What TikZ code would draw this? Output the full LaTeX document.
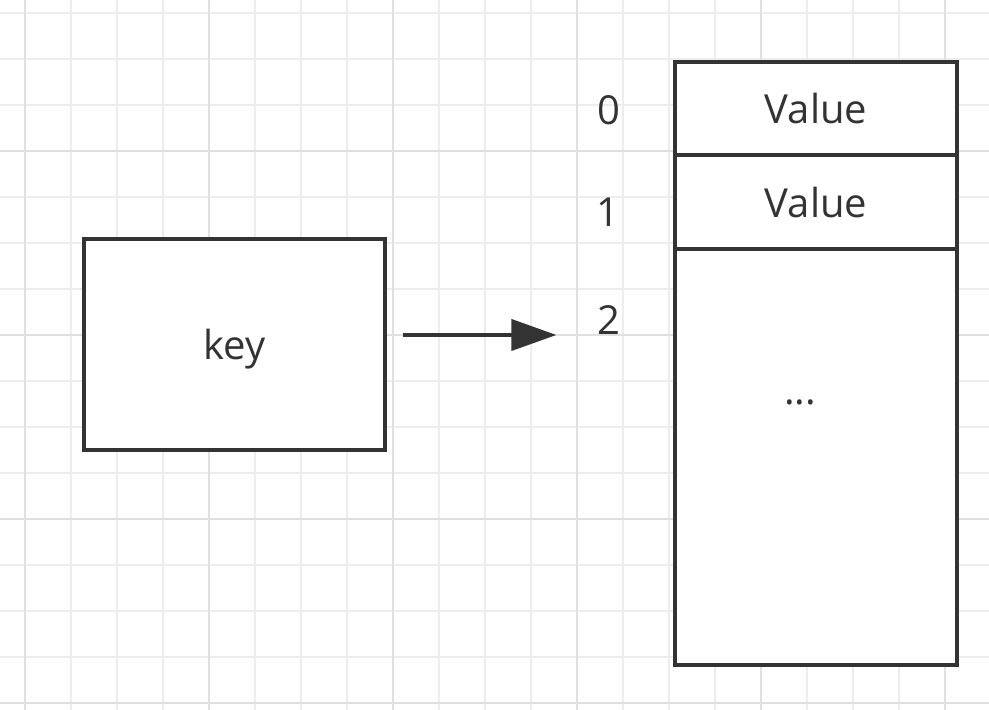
\documentclass[tikz,border=0pt]{standalone}
\usepackage{fontspec}
\setmainfont{Open Sans}
\usetikzlibrary{arrows.meta,positioning}
\definecolor{MapLine}{HTML}{333333}
\definecolor{MapGrid}{HTML}{EDEDED}
\definecolor{MapGridMajor}{HTML}{E0E0E0}

\begin{document}
\begin{tikzpicture}[
    x=1pt, y=-1pt,
    box/.style={draw=MapLine, fill=white, line width=4pt, outer sep=0pt,
      minimum width=282pt, inner sep=0pt, text depth=0pt,
      font=\fontsize{40}{48}\selectfont, text=MapLine},
    idxtext/.style={inner sep=0pt, font=\fontsize{40}{48}\selectfont, text=MapLine},
    arrow/.style={-{Triangle[length=45pt,width=31pt]}, line width=4pt, draw=MapLine},
    gridline/.style={draw=MapGrid, line width=1.2pt},
    gridmajor/.style={draw=MapGridMajor, line width=1.2pt}
  ]
    \useasboundingbox (0,0) rectangle (989,710);
    \fill[white] (0,0) rectangle (989,710);

    % background grid
    \foreach \k in {0,...,20}
      \draw[gridline] ({25+46*\k},0) -- ({25+46*\k},710);
    \foreach \k in {0,...,15}
      \draw[gridline] (0,{13+46*\k}) -- (989,{13+46*\k});
    \foreach \gx in {25,209,393,577,761,945}
      \draw[gridmajor] (\gx,0) -- (\gx,710);
    \foreach \gy in {151,335,519,703}
      \draw[gridmajor] (0,\gy) -- (989,\gy);

    % key
    \node[box, minimum width=301pt, minimum height=211pt] (key) at (234.5,344.5) {key};

    % value column
    \node[box, minimum height=93pt] (cell0) at (816,108.5) {Value};
    \node[box, minimum height=94pt, below=0pt of cell0] (cell1) {Value};
    \node[box, minimum height=416pt, below=0pt of cell1] (cell2) {};
    \node[idxtext] (dots) at (800,402) {...};

    \node[idxtext] (idx0) at (609,110.5) {0};
    \node[idxtext] (idx1) at (608,212.5) {1};
    \node[idxtext] (idx2) at (609,320.5) {2};

    \draw[arrow, shorten <=18pt, shorten >=41pt] (key.east |- idx2.base) -- (idx2.base west);
  \end{tikzpicture}
\end{document}
